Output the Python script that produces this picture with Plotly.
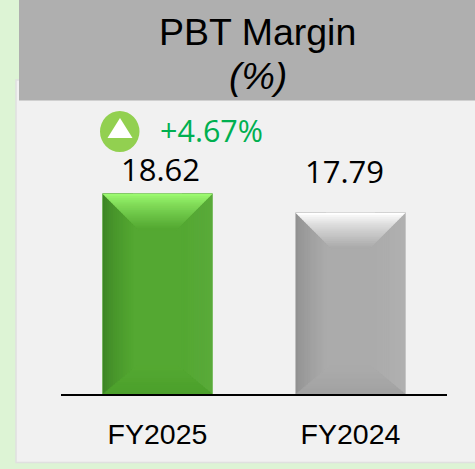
import plotly.graph_objects as go

categories = ["FY2025", "FY2024"]
values = [18.62, 17.79]
change_label = "+4.67%"
title_line1 = "PBT Margin"
title_line2 = "(%)"

W, H = 475, 469
PL, PR, PT, PB = 61, 447, 100, 394
Y_MIN, BAR_W = 9.89, 0.565
PX_PER_UNIT = 22.9
Y_MAX = Y_MIN + (PB - PT) / PX_PER_UNIT
PX_PER_X = (PR - PL) / 2.0

palettes = [
    dict(mid=(84, 168, 50), top=(156, 250, 112), left=(62, 134, 38), right=(90, 170, 58), bottom=(76, 160, 44), edge="#6DB650"),
    dict(mid=(171, 171, 171), top=(255, 255, 255), left=(146, 146, 146), right=(176, 176, 176), bottom=(162, 162, 162), edge="#C4C4C4"),
]
label_yshift = [25, 42]
label_xshift = [3, -6]


def mix(a, b, t):
    return "rgb(%d,%d,%d)" % tuple(round(a[i] + (b[i] - a[i]) * t) for i in range(3))


def px(x):
    return x / W


def py(y):
    return 1 - y / H


shapes = [
    dict(type="rect", xref="paper", yref="paper", x0=px(16), x1=px(480), y0=py(462.5), y1=py(80),
         fillcolor="#F1F1F1", line=dict(color="#E0E0E0", width=1.5), layer="below"),
    dict(type="rect", xref="paper", yref="paper", x0=px(19), x1=px(475), y0=py(100.5), y1=py(0),
         fillcolor="#AFAFAF", line=dict(width=0), layer="below"),
    dict(type="circle", xref="paper", yref="paper", x0=px(100), x1=px(139.5), y0=py(152), y1=py(111),
         fillcolor="#92D050", line=dict(width=0), layer="above"),
    dict(type="path", xref="paper", yref="paper",
         path=f"M{px(107.5)},{py(138)} L{px(132.5)},{py(138)} L{px(120)},{py(118)} Z",
         fillcolor="#FFFFFF", line=dict(width=0), layer="above"),
]

STEP = 2
for i, (val, pal) in enumerate(zip(values, palettes)):
    xl, xr = i - BAR_W / 2, i + BAR_W / 2
    dx = 1 / PX_PER_X
    dy = 1 / PX_PER_UNIT

    def poly(points, color):
        d = "M" + " L".join(f"{a},{b}" for a, b in points) + " Z"
        return dict(type="path", xref="x", yref="y", path=d, fillcolor=color,
                    line=dict(color=color, width=0.5), layer="above")

    side = 30
    for t in range(0, side, STEP):
        f = t / side
        shapes.append(poly([(xl + t * dx, Y_MIN), (xl + (t + STEP) * dx, Y_MIN),
                            (xl + (t + STEP) * dx, val), (xl + t * dx, val)], mix(pal["left"], pal["mid"], f ** 0.7)))
        shapes.append(poly([(xr - t * dx, Y_MIN), (xr - (t + STEP) * dx, Y_MIN),
                            (xr - (t + STEP) * dx, val), (xr - t * dx, val)], mix(pal["right"], pal["mid"], f)))
    depth = 36
    for t in range(0, depth, STEP):
        f = min(1, t / (depth - STEP))
        col = mix(pal["top"], pal["mid"], f ** 0.8)
        s0, s1 = t, t + STEP
        shapes.append(poly([(xl + s0 * dx, val - s0 * dy), (xr - s0 * dx, val - s0 * dy),
                            (xr - s1 * dx, val - s1 * dy), (xl + s1 * dx, val - s1 * dy)], col))
    depth = 27
    for t in range(0, depth, STEP):
        f = t / (depth - STEP)
        col = mix(pal["bottom"], pal["mid"], f)
        s0, s1 = t, t + STEP
        k = 1.2
        shapes.append(poly([(xl + s0 * k * dx, Y_MIN + s0 * dy), (xr - s0 * k * dx, Y_MIN + s0 * dy),
                            (xr - s1 * k * dx, Y_MIN + s1 * dy), (xl + s1 * k * dx, Y_MIN + s1 * dy)], col))

fig = go.Figure(go.Bar(
    x=list(range(len(categories))),
    y=values,
    width=BAR_W,
    marker=dict(color=[mix(p["mid"], p["mid"], 0) for p in palettes],
                line=dict(color=[p["edge"] for p in palettes], width=1.5)),
    hoverinfo="skip",
))

annotations = [
    dict(xref="paper", yref="paper", x=px(257.5), y=py(32), text=title_line1, showarrow=False,
         xanchor="center", yanchor="middle",
         font=dict(family="Liberation Sans", size=37.5, color="#000000")),
    dict(xref="paper", yref="paper", x=px(258), y=py(76), text=f"<i>{title_line2}</i>", showarrow=False,
         xanchor="center", yanchor="middle",
         font=dict(family="Liberation Sans", size=37.5, color="#000000")),
    dict(xref="paper", yref="paper", x=px(211), y=py(130), text=change_label, showarrow=False,
         xanchor="center", yanchor="middle",
         font=dict(family="Open Sans", size=30.5, color="#00B050")),
]
for i, val in enumerate(values):
    annotations.append(dict(x=i, y=val, xref="x", yref="y", text=f"{val:.2f}",
                            showarrow=False, xanchor="center", yanchor="middle",
                            yshift=label_yshift[i], xshift=label_xshift[i],
                            font=dict(family="Open Sans", size=31, color="#000000")))

fig.update_layout(
    width=W, height=H, margin=dict(l=0, r=0, t=0, b=0), autosize=False,
    paper_bgcolor="#DDF4D5", plot_bgcolor="rgba(0,0,0,0)",
    showlegend=False, shapes=shapes, annotations=annotations,
    xaxis=dict(domain=[px(PL), px(PR)], range=[-0.5, 1.5], tickmode="array",
               tickvals=list(range(len(categories))), ticktext=categories,
               showgrid=False, zeroline=False, showline=True, linecolor="#000000", linewidth=2,
               ticks="", ticklabelstandoff=14,
               tickfont=dict(family="Liberation Sans", size=28.5, color="#000000")),
    yaxis=dict(domain=[py(PB), py(PT)], range=[Y_MIN, Y_MAX], visible=False),
)

fig.write_html("out.html", config=dict(displayModeBar=False),
               post_script="document.body.style.margin='0';document.documentElement.style.overflow='hidden';")
